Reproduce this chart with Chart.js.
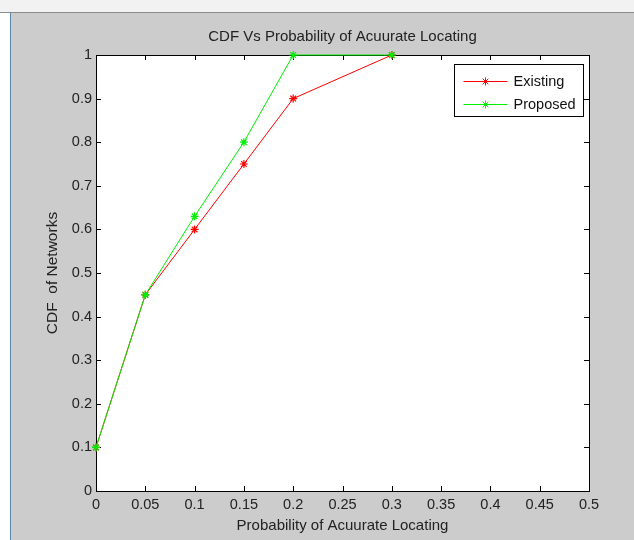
<!DOCTYPE html>
<html>
<head>
<meta charset="utf-8">
<script src="https://cdn.jsdelivr.net/npm/chart.js@4.4.1/dist/chart.umd.min.js"></script>
<style>
  html, body { margin: 0; padding: 0; background: #fff; }
  #topbar { position: absolute; left: 0; top: 0; width: 634px; height: 12px; background: #f2f2f2; border-bottom: 1px solid #8c8c8c; }
  #leftline { position: absolute; left: 10px; top: 12px; width: 1px; height: 528px; background: #5f86a6; }
  #wrap { position: absolute; left: 11px; top: 13px; width: 623px; height: 527px; background: #cccccc; }
</style>
</head>
<body>
<div id="topbar"></div>
<div id="leftline"></div>
<div id="wrap"><canvas id="cdfChart" width="623" height="527"></canvas></div>
<script>
document.addEventListener('DOMContentLoaded', function () {

const probability = [0, 0.05, 0.1, 0.15, 0.2, 0.3];
const existing = [0.1, 0.45, 0.6, 0.75, 0.9, 1];
const proposed = [0.1, 0.45, 0.63, 0.8, 1, 1];
const xTicks = [0, 0.05, 0.1, 0.15, 0.2, 0.25, 0.3, 0.35, 0.4, 0.45, 0.5];
const yTicks = [0, 0.1, 0.2, 0.3, 0.4, 0.5, 0.6, 0.7, 0.8, 0.9, 1];

const FONT = '"Liberation Sans", Arial, sans-serif';

function points(ys) {
  return probability.map(function (x, i) { return { x: x, y: ys[i] }; });
}

// matlab style box: white axes, box outline, inward ticks
const matlabBox = {
  id: 'matlabBox',
  beforeDatasetsDraw: function (chart) {
    const ctx = chart.ctx;
    const a = chart.chartArea;
    const xs = chart.scales.x, ys = chart.scales.y;
    ctx.save();
    ctx.fillStyle = '#ffffff';
    ctx.fillRect(a.left, a.top, a.right - a.left, a.bottom - a.top);
    ctx.strokeStyle = '#000';
    ctx.lineWidth = 1;
    ctx.beginPath();
    xTicks.forEach(function (v) {
      const px = Math.round(xs.getPixelForValue(v)) + 0.5;
      ctx.moveTo(px, a.bottom); ctx.lineTo(px, a.bottom - 5);
      ctx.moveTo(px, a.top); ctx.lineTo(px, a.top + 5);
    });
    yTicks.forEach(function (v) {
      const py = Math.round(ys.getPixelForValue(v)) + 0.5;
      ctx.moveTo(a.left, py); ctx.lineTo(a.left + 5, py);
      ctx.moveTo(a.right, py); ctx.lineTo(a.right - 5, py);
    });
    ctx.stroke();
    ctx.strokeRect(Math.round(a.left) + 0.5, Math.round(a.top) + 0.5,
      Math.round(a.right - a.left), Math.round(a.bottom - a.top));
    ctx.restore();
  },
  afterDraw: function (chart) {
    const ctx = chart.ctx;
    const a = chart.chartArea;
    ctx.save();
    // title
    ctx.fillStyle = '#222';
    ctx.font = '15px ' + FONT;
    ctx.textAlign = 'center';
    ctx.textBaseline = 'middle';
    ctx.fillText('CDF Vs Probability of Acuurate Locating', (a.left + a.right) / 2, a.top - 18);
    // legend
    const w = 129, h = 52;
    const L = Math.round(a.right - 6 - w) + 0.5, T = Math.round(a.top + 9) + 0.5;
    ctx.fillStyle = '#fff';
    ctx.fillRect(L, T, w, h);
    ctx.strokeStyle = '#000';
    ctx.lineWidth = 1;
    ctx.strokeRect(L, T, w, h);
    chart.data.datasets.forEach(function (ds, i) {
      const y = Math.round(T + 16 + i * 23) + 0.5;
      ctx.strokeStyle = ds.borderColor;
      ctx.beginPath();
      ctx.moveTo(L + 9, y); ctx.lineTo(L + 53, y);
      ctx.stroke();
      Chart.helpers.drawPoint(ctx, { pointStyle: 'star', radius: 4, rotation: 0, borderWidth: 1 }, L + 31, y);
      ctx.fillStyle = '#111';
      ctx.font = '14.5px ' + FONT;
      ctx.textAlign = 'left';
      ctx.fillText(ds.label, L + 59, y);
    });
    ctx.restore();
  }
};

const ctx = document.getElementById('cdfChart').getContext('2d');
new Chart(ctx, {
  type: 'line',
  data: {
    datasets: [
      {
        label: 'Existing',
        data: points(existing),
        order: 1,
        borderColor: '#ff0000',
        backgroundColor: '#ff0000',
        pointBorderColor: '#ff0000',
        borderWidth: 1,
        pointStyle: 'star',
        pointRadius: 4,
        pointBorderWidth: 1.2,
        clip: false,
        tension: 0
      },
      {
        label: 'Proposed',
        data: points(proposed),
        order: 0,
        borderColor: '#00ee00',
        backgroundColor: '#00ee00',
        pointBorderColor: '#00ee00',
        borderWidth: 1,
        pointStyle: 'star',
        pointRadius: 4,
        pointBorderWidth: 1.2,
        clip: false,
        tension: 0
      }
    ]
  },
  options: {
    responsive: false,
    animation: false,
    events: [],
    layout: { padding: { top: 42, right: 45, bottom: 0, left: 0 } },
    plugins: {
      legend: { display: false },
      title: { display: false },
      tooltip: { enabled: false }
    },
    scales: {
      x: {
        type: 'linear',
        min: 0,
        max: 0.5,
        grid: { display: false, drawTicks: false },
        border: { display: false },
        afterBuildTicks: function (scale) {
          scale.ticks = xTicks.map(function (v) { return { value: v }; });
        },
        afterFit: function (scale) { scale.height = 49; },
        ticks: {
          color: '#222',
          padding: 5,
          maxRotation: 0,
          autoSkip: false,
          font: { family: FONT, size: 14.5 },
          callback: function (v) { return String(v); }
        },
        title: {
          display: true,
          text: 'Probability of Acuurate Locating',
          color: '#222',
          font: { family: FONT, size: 15 },
          padding: { top: 0, bottom: 5 }
        }
      },
      y: {
        type: 'linear',
        min: 0,
        max: 1,
        grid: { display: false, drawTicks: false },
        border: { display: false },
        afterBuildTicks: function (scale) {
          scale.ticks = yTicks.map(function (v) { return { value: v }; });
        },
        afterFit: function (scale) { scale.width = 85; },
        ticks: {
          color: '#222',
          padding: 4,
          autoSkip: false,
          font: { family: FONT, size: 14.5 },
          callback: function (v) { return String(v); }
        },
        title: {
          display: true,
          text: 'CDF  of Networks',
          color: '#222',
          font: { family: FONT, size: 15.5 },
          padding: { top: 32, bottom: 0 }
        }
      }
    }
  },
  plugins: [matlabBox]
});

});
</script>
</body>
</html>
